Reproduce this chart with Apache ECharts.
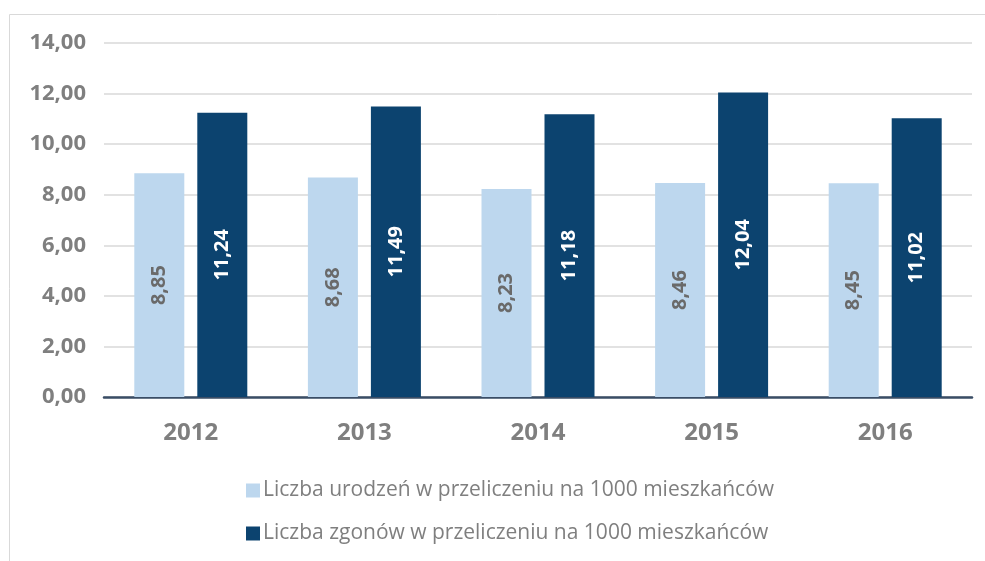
<!DOCTYPE html>
<html>
<head>
<meta charset="utf-8">
<script src="https://cdn.jsdelivr.net/npm/echarts@6/dist/echarts.min.js"></script>
<style>
  html, body { margin: 0; padding: 0; background: #fff; }
  #chart { width: 985px; height: 561px; }
</style>
</head>
<body>
<div id="chart"></div>
<script>
const years = ['2012', '2013', '2014', '2015', '2016'];
const births = [8.85, 8.68, 8.23, 8.46, 8.45];
const deaths = [11.24, 11.49, 11.18, 12.04, 11.02];
const seriesNames = [
  'Liczba urodzeń w przeliczeniu na 1000 mieszkańców',
  'Liczba zgonów w przeliczeniu na 1000 mieszkańców'
];

const font = '"Open Sans", "Noto Sans", sans-serif';
const grey = '#7f7f7f';
const fmt = (v) => Number(v).toFixed(2).replace('.', ',');

const chart = echarts.init(document.getElementById('chart'), null, {renderer: 'canvas'});

chart.setOption({
  animation: false,
  textStyle: {fontFamily: font},
  graphic: [{
    type: 'rect',
    shape: {x: 9.5, y: 14.5, width: 1000, height: 600},
    style: {fill: 'none', stroke: '#d9d9d9', lineWidth: 1},
    silent: true
  }],
  grid: {left: 104, right: 13, top: 43, bottom: 164},
  legend: {
    orient: 'vertical',
    left: 241,
    top: 475,
    itemGap: 22,
    itemWidth: 14,
    itemHeight: 14,
    icon: 'rect',
    textStyle: {color: grey, fontSize: 21, fontFamily: font, padding: [0, 0, 0, -2]},
    data: seriesNames
  },
  xAxis: {
    type: 'category',
    data: years,
    axisLine: {lineStyle: {color: '#3a4d66', width: 2.5}},
    axisTick: {show: false},
    axisLabel: {color: grey, fontSize: 24, fontWeight: 'bold', margin: 24}
  },
  yAxis: {
    type: 'value',
    min: 0,
    max: 14,
    interval: 2,
    axisLine: {show: false},
    axisTick: {show: false},
    splitLine: {lineStyle: {color: '#d9d9d9', width: 1.5}},
    axisLabel: {color: grey, fontSize: 22, fontWeight: 'bold', margin: 18, formatter: fmt}
  },
  series: [
    {
      name: seriesNames[0],
      type: 'bar',
      data: births,
      barWidth: 50,
      barGap: '26%',
      itemStyle: {color: '#bdd7ee'},
      label: {
        show: true,
        position: 'inside',
        rotate: 90,
        color: '#6a6a6a',
        fontSize: 20,
        fontWeight: 'bold',
        formatter: (p) => fmt(p.value)
      }
    },
    {
      name: seriesNames[1],
      type: 'bar',
      data: deaths,
      barWidth: 50,
      itemStyle: {color: '#0c436f'},
      label: {
        show: true,
        position: 'inside',
        rotate: 90,
        color: '#ffffff',
        fontSize: 20,
        fontWeight: 'bold',
        formatter: (p) => fmt(p.value)
      }
    }
  ]
});
</script>
</body>
</html>
